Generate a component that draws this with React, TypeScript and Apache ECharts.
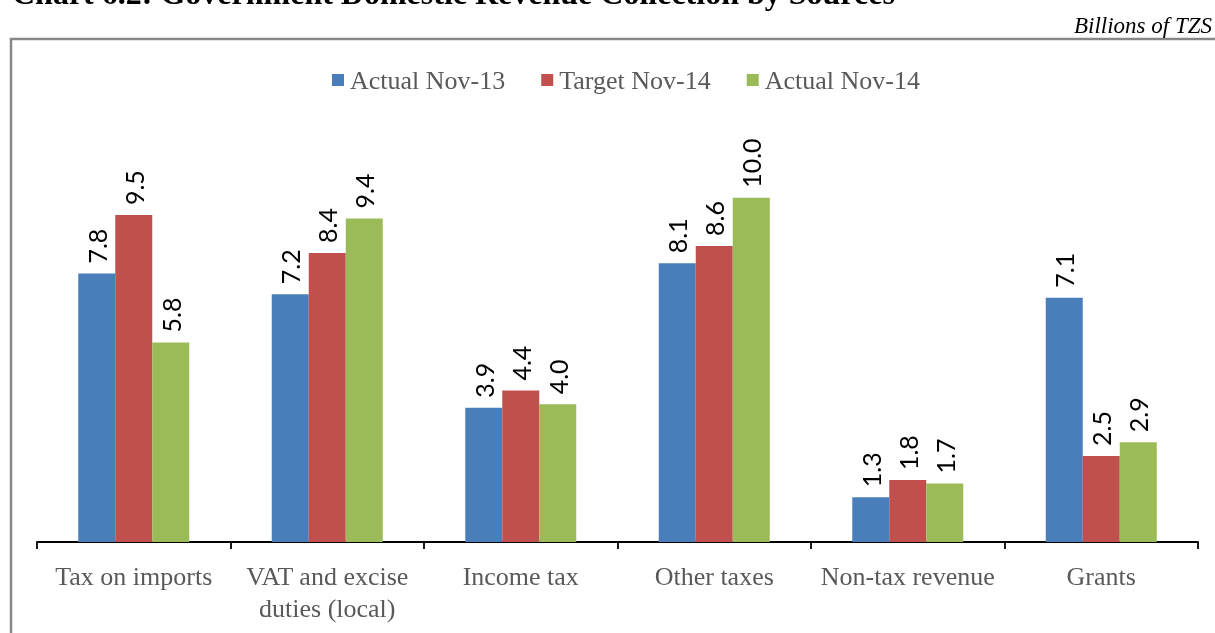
import React, { useEffect, useRef } from "react";
import * as echarts from "echarts";

const categories = [
  "Tax on imports",
  "VAT and excise\nduties (local)",
  "Income tax",
  "Other taxes",
  "Non-tax revenue",
  "Grants",
];
const seriesNames = ["Actual Nov-13", "Target Nov-14", "Actual Nov-14"];
const actualNov13 = [7.8, 7.2, 3.9, 8.1, 1.3, 7.1];
const targetNov14 = [9.5, 8.4, 4.4, 8.6, 1.8, 2.5];
const actualNov14 = [5.8, 9.4, 4.0, 10.0, 1.7, 2.9];
const colors = ["#4a7ebb", "#c0504d", "#9bbb59"];
const titleText = "Chart 6.2: Government Domestic Revenue Collection by Sources";
const unitText = "Billions of TZS";

export default function App() {
  const ref = useRef<HTMLDivElement>(null);
  useEffect(() => {
    if (!ref.current) return;
    const chart = echarts.init(ref.current, null, { renderer: "svg" });
    const dataSets = [actualNov13, targetNov14, actualNov14];
    chart.setOption({
      animation: false,
      color: colors,
      legend: {
        top: 62,
        left: 327,
        itemWidth: 12,
        itemHeight: 12,
        itemGap: 36,
        icon: "rect",
        textStyle: {
          fontFamily: "'Liberation Serif', 'Times New Roman', serif",
          fontSize: 26,
          color: "#595959",
          padding: [0, 0, 0, 1],
        },
        data: seriesNames,
      },
      grid: { left: 37, right: 17, top: 129, bottom: 91, containLabel: false },
      xAxis: {
        type: "category",
        data: categories,
        axisLine: { show: true, lineStyle: { color: "#000", width: 1.8 } },
        axisTick: {
          show: true,
          alignWithLabel: false,
          length: 7,
          lineStyle: { color: "#000", width: 1.8 },
        },
        axisLabel: {
          interval: 0,
          margin: 18,
          fontFamily: "'Liberation Serif', 'Times New Roman', serif",
          fontSize: 26,
          lineHeight: 32,
          color: "#595959",
        },
      },
      yAxis: {
        type: "value",
        min: 0,
        max: 12,
        show: false,
        splitLine: { show: false },
      },
      graphic: [
        {
          type: "rect",
          shape: { x: 11, y: 39, width: 1230, height: 640 },
          style: { fill: "none", stroke: "#878787", lineWidth: 2.5 },
          silent: true,
        },
        {
          type: "text",
          x: 12,
          y: 9,
          style: {
            text: titleText,
            font: "bold 32px 'Liberation Serif', 'Times New Roman', serif",
            fill: "#000",
            verticalAlign: "bottom",
            align: "left",
          },
        },
        {
          type: "text",
          x: 1212,
          y: 37,
          style: {
            text: unitText,
            font: "italic 23px 'Liberation Serif', 'Times New Roman', serif",
            fill: "#000",
            verticalAlign: "bottom",
            align: "right",
          },
        },
      ],
      series: seriesNames.map((name, i) => ({
        name,
        type: "bar",
        data: dataSets[i],
        barWidth: 37,
        barGap: "0%",
        itemStyle: { color: colors[i] },
        label: {
          show: true,
          position: "top",
          rotate: 90,
          align: "left",
          verticalAlign: "middle",
          distance: 10,
          formatter: (p: any) => Number(p.value).toFixed(1),
          fontFamily: "Lato, 'Liberation Sans', sans-serif",
          fontSize: 25,
          color: "#000",
        },
      })),
    });
    return () => chart.dispose();
  }, []);
  return (
    <div
      ref={ref}
      style={{ position: "fixed", left: 0, top: 0, width: 1215, height: 633 }}
    />
  );
}
